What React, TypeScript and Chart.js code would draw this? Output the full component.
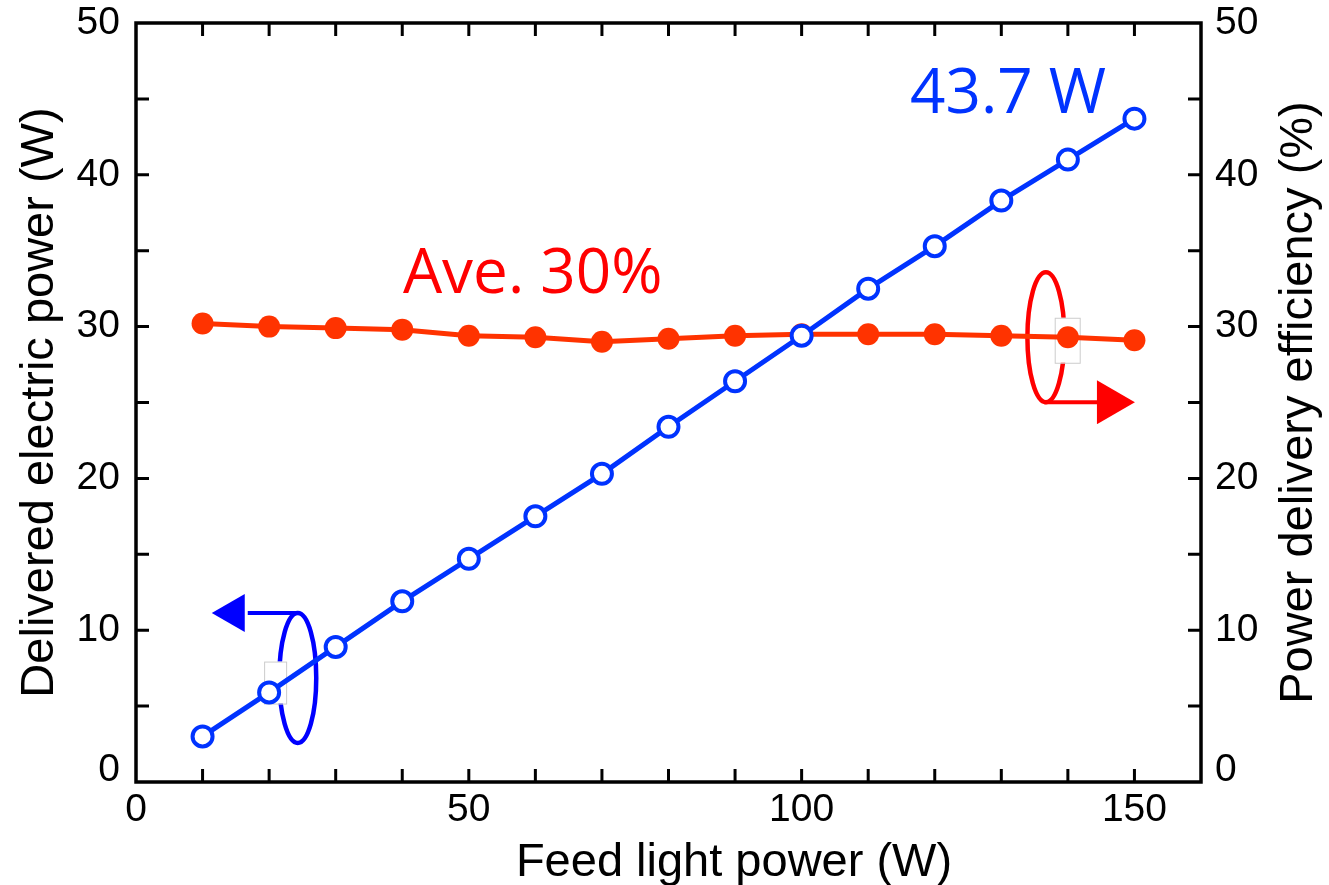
import React, { useEffect, useRef } from "react";
import { Chart, registerables } from "chart.js";

Chart.register(...registerables);

// ---- data ----
const feedPower = [10, 20, 30, 40, 50, 60, 70, 80, 90, 100, 110, 120, 130, 140, 150];
const deliveredPower = [3.0, 5.9, 8.9, 11.9, 14.7, 17.5, 20.3, 23.4, 26.4, 29.4, 32.5, 35.3, 38.3, 41.0, 43.7];
const efficiency = [30.2, 30.0, 29.9, 29.8, 29.4, 29.3, 29.0, 29.2, 29.4, 29.5, 29.5, 29.5, 29.4, 29.3, 29.1];

const xTickValues = [0, 50, 100, 150];
const yTickValues = [0, 10, 20, 30, 40, 50];

const xTitle = "Feed light power (W)";
const yLeftTitle = "Delivered electric power (W)";
const yRightTitle = "Power delivery efficiency (%)";
const maxLabel = "43.7 W";
const aveLabel = "Ave. 30%";

// annotation anchors in data units
const blueLoop = { x: 24.3, y: 6.85 };
const redLoop = { x: 136.7, y: 29.3 };
const blueBox = { x: 20.9, y: 6.55 };
const redBox = { x: 139.9, y: 29.1 };
const maxLabelPos = { x: 116.3, y: 44.1 };
const aveLabelPos = { x: 40.1, y: 32.2 };

const BLUE = "#0033ff";
const RED_LINE = "#ff3300";
const BLUE_PURE = "#0000ff";
const RED_PURE = "#ff0000";
const TICK_FONT = '39px "Liberation Sans", Arial, sans-serif';

const decor = {
  id: "decor",
  beforeDatasetsDraw(chart: any) {
    const ctx = chart.ctx;
    const xs = chart.scales.x;
    const ys = chart.scales.y;
    ctx.save();
    const drawLoop = (p: any, color: string, dir: number) => {
      const cx = xs.getPixelForValue(p.x);
      const cy = ys.getPixelForValue(p.y);
      const rx = 18.5;
      const ry = 65;
      ctx.strokeStyle = color;
      ctx.lineWidth = 4.5;
      ctx.beginPath();
      ctx.ellipse(cx, cy, rx, ry, 0, 0, Math.PI * 2);
      ctx.stroke();
      ctx.fillStyle = color;
      ctx.lineWidth = 4;
      if (dir < 0) {
        const sy = cy - ry;
        ctx.beginPath();
        ctx.moveTo(cx + 2, sy);
        ctx.lineTo(cx - 50, sy);
        ctx.stroke();
        ctx.beginPath();
        ctx.moveTo(cx - 53, sy - 19);
        ctx.lineTo(cx - 53, sy + 19);
        ctx.lineTo(cx - 86, sy);
        ctx.closePath();
        ctx.fill();
      } else {
        const sy = cy + ry;
        ctx.beginPath();
        ctx.moveTo(cx - 2, sy);
        ctx.lineTo(cx + 54, sy);
        ctx.stroke();
        ctx.beginPath();
        ctx.moveTo(cx + 51, sy - 22);
        ctx.lineTo(cx + 51, sy + 22);
        ctx.lineTo(cx + 89, sy);
        ctx.closePath();
        ctx.fill();
      }
    };
    drawLoop(blueLoop, BLUE_PURE, -1);
    drawLoop(redLoop, RED_PURE, 1);
    const drawBox = (p: any, w: number, h: number) => {
      const cx = xs.getPixelForValue(p.x);
      const cy = ys.getPixelForValue(p.y);
      ctx.fillStyle = "#ffffff";
      ctx.strokeStyle = "#cccccc";
      ctx.lineWidth = 1;
      ctx.fillRect(cx - w / 2, cy - h / 2, w, h);
      ctx.strokeRect(cx - w / 2 + 0.5, cy - h / 2 + 0.5, w, h);
    };
    drawBox(blueBox, 22, 42);
    drawBox(redBox, 25, 45);
    ctx.restore();
  },
  afterDraw(chart: any) {
    const ctx = chart.ctx;
    const a = chart.chartArea;
    const xs = chart.scales.x;
    const ys = chart.scales.y;
    ctx.save();
    ctx.strokeStyle = "#000";
    ctx.lineWidth = 3;
    const tl = 13;
    ctx.beginPath();
    for (let v = 10; v < 160; v += 10) {
      const px = xs.getPixelForValue(v);
      ctx.moveTo(px, a.bottom);
      ctx.lineTo(px, a.bottom - tl);
      ctx.moveTo(px, a.top);
      ctx.lineTo(px, a.top + tl);
    }
    for (let v = 5; v < 50; v += 5) {
      const py = ys.getPixelForValue(v);
      ctx.moveTo(a.left, py);
      ctx.lineTo(a.left + tl, py);
      ctx.moveTo(a.right, py);
      ctx.lineTo(a.right - tl, py);
    }
    ctx.stroke();
    ctx.lineWidth = 3.5;
    ctx.strokeRect(a.left, a.top, a.right - a.left, a.bottom - a.top);

    // zero labels of both y axes, lifted clear of the x axis
    ctx.fillStyle = "#000";
    ctx.font = TICK_FONT;
    ctx.textBaseline = "middle";
    const zy = ys.getPixelForValue(yTickValues[0]) - 12;
    ctx.textAlign = "right";
    ctx.fillText(String(yTickValues[0]), a.left - 16, zy);
    ctx.textAlign = "left";
    ctx.fillText(String(yTickValues[0]), a.right + 14, zy);

    ctx.font = '47px "Liberation Sans", Arial, sans-serif';
    ctx.textAlign = "center";
    ctx.textBaseline = "alphabetic";
    ctx.fillText(xTitle, 734, 876);
    const midY = (a.top + a.bottom) / 2;
    ctx.save();
    ctx.translate(53, midY);
    ctx.rotate(-Math.PI / 2);
    ctx.fillText(yLeftTitle, 0, 0);
    ctx.restore();
    ctx.save();
    ctx.translate(1312, midY);
    ctx.rotate(-Math.PI / 2);
    ctx.fillText(yRightTitle, 0, 0);
    ctx.restore();

    ctx.textAlign = "left";
    ctx.font = '62px "Open Sans", "Noto Sans", sans-serif';
    ctx.fillStyle = BLUE;
    ctx.fillText(maxLabel, xs.getPixelForValue(maxLabelPos.x), ys.getPixelForValue(maxLabelPos.y));
    ctx.fillStyle = RED_PURE;
    ctx.fillText(aveLabel, xs.getPixelForValue(aveLabelPos.x), ys.getPixelForValue(aveLabelPos.y));
    ctx.restore();
  },
};

export default function App() {
  const ref = useRef<HTMLCanvasElement>(null);
  useEffect(() => {
    if (!ref.current) return;
    const tickFont = { family: '"Liberation Sans", Arial, sans-serif', size: 39 };
    const yLabel = (v: any) => (v === 0 ? "" : String(v));
    const chart = new Chart(ref.current, {
      type: "line",
      data: {
        datasets: [
          {
            label: "Delivered electric power",
            data: feedPower.map((x, i) => ({ x, y: deliveredPower[i] })),
            yAxisID: "y",
            borderColor: BLUE,
            borderWidth: 5,
            pointRadius: 10,
            pointBorderWidth: 4,
            pointBackgroundColor: "#ffffff",
            pointBorderColor: BLUE,
            tension: 0,
          },
          {
            label: "Power delivery efficiency",
            data: feedPower.map((x, i) => ({ x, y: efficiency[i] })),
            yAxisID: "y1",
            borderColor: RED_LINE,
            borderWidth: 5,
            pointRadius: 11,
            pointBorderWidth: 0,
            pointBackgroundColor: RED_LINE,
            pointBorderColor: RED_LINE,
            tension: 0,
          },
        ],
      },
      options: {
        animation: false,
        responsive: true,
        maintainAspectRatio: false,
        layout: { padding: { top: 23, left: 0, right: 0, bottom: 0 } },
        plugins: { legend: { display: false }, tooltip: { enabled: false } },
        scales: {
          x: {
            type: "linear",
            min: 0,
            max: 160,
            grid: { display: false, drawTicks: false },
            border: { display: false },
            afterBuildTicks: (s: any) => {
              s.ticks = xTickValues.map((v) => ({ value: v }));
            },
            afterFit: (s: any) => {
              s.height = 103;
              s.paddingLeft = 0;
              s.paddingRight = 0;
            },
            ticks: { font: tickFont, color: "#000", padding: 5, maxRotation: 0 },
          },
          y: {
            type: "linear",
            position: "left",
            min: 0,
            max: 50,
            grid: { display: false, drawTicks: false },
            border: { display: false },
            afterBuildTicks: (s: any) => {
              s.ticks = yTickValues.map((v) => ({ value: v }));
            },
            afterFit: (s: any) => {
              s.width = 136;
              s.paddingTop = 0;
              s.paddingBottom = 0;
            },
            ticks: { font: tickFont, color: "#000", padding: 16, callback: yLabel },
          },
          y1: {
            type: "linear",
            position: "right",
            min: 0,
            max: 50,
            grid: { display: false, drawTicks: false },
            border: { display: false },
            afterBuildTicks: (s: any) => {
              s.ticks = yTickValues.map((v) => ({ value: v }));
            },
            afterFit: (s: any) => {
              s.width = 128;
              s.paddingTop = 0;
              s.paddingBottom = 0;
            },
            ticks: { font: tickFont, color: "#000", padding: 14, callback: yLabel },
          },
        },
      },
      plugins: [decor],
    });
    return () => chart.destroy();
  }, []);
  return (
    <div style={{ position: "absolute", left: 0, top: 0, width: 1329, height: 885, background: "#fff" }}>
      <canvas ref={ref} />
    </div>
  );
}
